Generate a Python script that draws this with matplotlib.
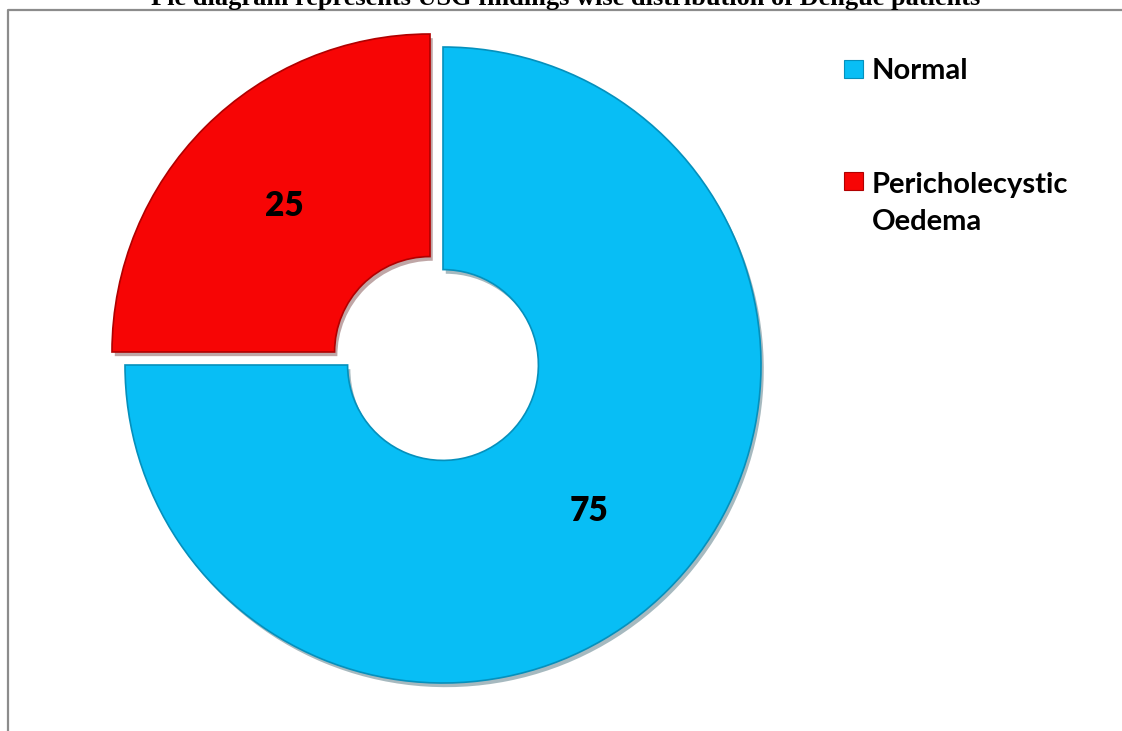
import matplotlib
matplotlib.use("Agg")
import matplotlib.pyplot as plt
import matplotlib.patheffects as pe
from matplotlib.patches import Rectangle

# data
categories = ["Normal", "Pericholecystic\nOedema"]
values = [75, 25]
colors = ["#08BEF5", "#F70505"]
edge_colors = ["#0590BC", "#B00000"]
title = "Pie diagram represents USG findings wise distribution of Dengue patients"

W, H = 1122, 731
fig = plt.figure(figsize=(W / 100, H / 100), dpi=100)
ax = fig.add_axes([0, 0, 1, 1])

# pie in pixel-like data coords (y up); explode is in data units here
cx, cy, R = 436.5, H - 358.5, 318
wedges, texts = ax.pie(values, colors=colors, startangle=90, counterclock=False,
                       explode=[9.2, 9.2], radius=R, center=(cx, cy),
                       labels=[str(v) for v in values], labeldistance=0.648,
                       wedgeprops=dict(width=R * 0.70, linewidth=1.2),
                       frame=True,
                       textprops=dict(fontsize=24, fontweight="heavy", family="Lato",
                                      color="black", ha="center", va="center"))
for w, ec in zip(wedges, edge_colors):
    w.set_edgecolor(ec)
    w.set_path_effects([pe.SimplePatchShadow(offset=(2, -3), alpha=0.35, rho=0.3),
                        pe.Normal()])

ax.set_xlim(0, W)
ax.set_ylim(0, H)
ax.set_aspect("auto")
ax.axis("off")

# legend drawn by hand: square at first line, text baseline at last line
sq_y = [H - 78, H - 190]
last_base = [H - 79, H - 230]
for lab, col, ec, ys, yb in zip(categories, colors, edge_colors, sq_y, last_base):
    ax.add_patch(Rectangle((844, ys), 19, 18, facecolor=col, edgecolor=ec, lw=0.8))
    ax.text(872, yb, lab, fontsize=21, fontweight="bold", family="Lato",
            ha="left", va="baseline", linespacing=1.5)

# frame
ax.plot([8, 8, W], [0, H - 10, H - 10], color="#8C8C8C", lw=1.6, clip_on=False)

fig.text(566 / W, 1 - 5 / H, title, fontsize=19, fontweight="bold",
         family="Liberation Serif", ha="center", va="baseline")

fig.savefig("out.png", dpi=100)
